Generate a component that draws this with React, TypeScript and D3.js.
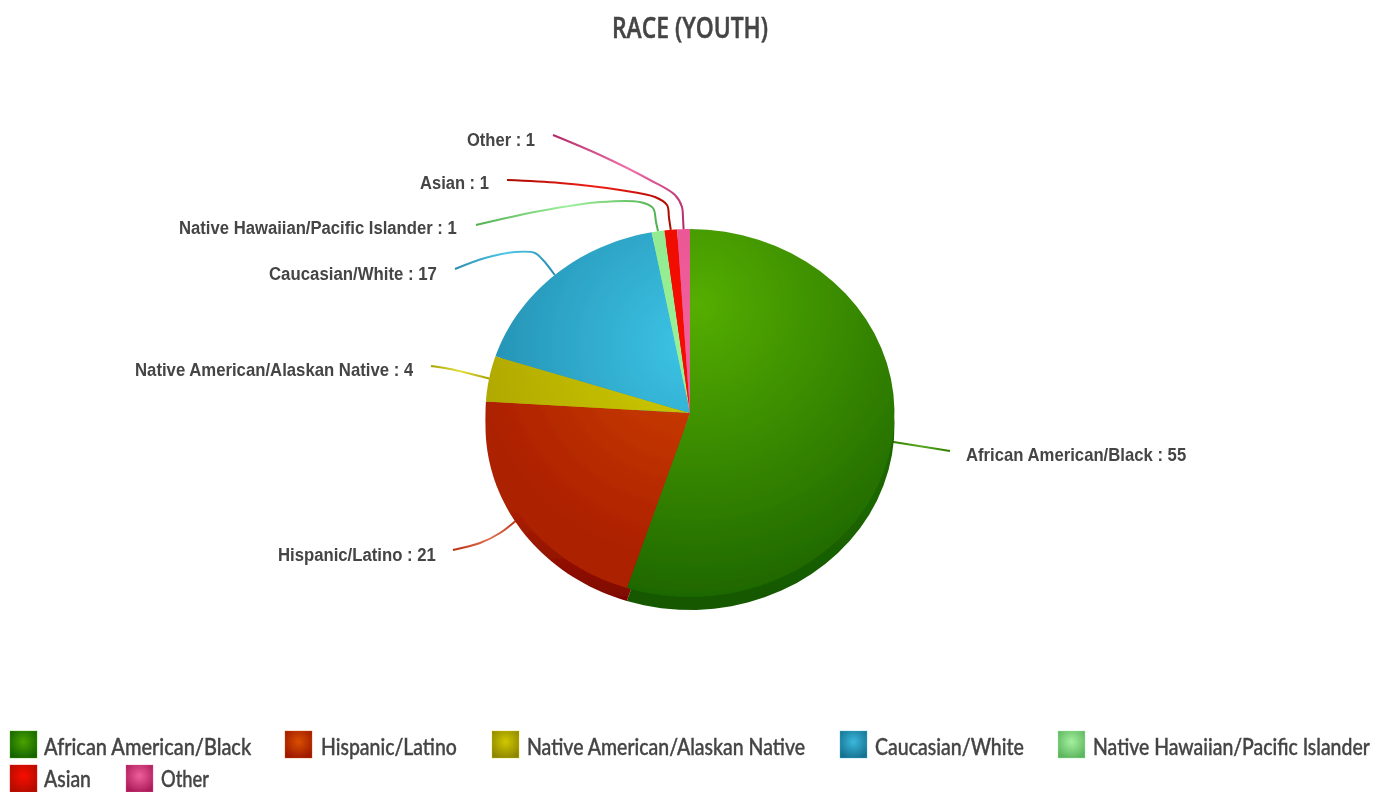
import React from "react";
import * as d3 from "d3";

const categories = ["African American/Black", "Hispanic/Latino", "Native American/Alaskan Native", "Caucasian/White", "Native Hawaiian/Pacific Islander", "Asian", "Other"];
const seriesValues = [55, 21, 4, 17, 1, 1, 1];

const brightColors = ["#55ae00", "#d04200", "#d0cc00", "#3cc4e6", "#9af098", "#f70800", "#f0609c"];
const darkColors = ["#1d6600", "#ac2000", "#b0a800", "#2490b2", "#8ce88a", "#e80800", "#e85090"];
const sideTop = ["#1d6600", "#ac2000", "#b0a800", "#2490b2", "#8ce88a", "#e80800", "#e85090"];
const sideBottom = ["#145800", "#7e0600", "#7a7000", "#1a6a85", "#60a860", "#900400", "#a02060"];
const swatchBright = ["#4aa200", "#d94f00", "#d0c800", "#3ab8dc", "#a4f0a0", "#f81000", "#ef5f9b"];
const swatchDark = ["#136200", "#9c1800", "#8c8400", "#17708f", "#5cb45c", "#b00800", "#aa1a58"];
const lineLight = ["#58a820", "#e07050", "#e4e040", "#50c8e8", "#a0f0a0", "#f02018", "#f070a8"];
const lineDark = ["#2e7d00", "#b83010", "#a8a000", "#2a8cb0", "#50b050", "#a80800", "#b02868"];

const W = 1390, H = 792;
const cx = 690, cy = 413, rx = 204.5, ry = 184, depth = 13;

const labelLayout = [
  { x: 966, y: 461, end: false, w: 221 },
  { x: 436, y: 561, end: true, w: 158 },
  { x: 414, y: 376, end: true, w: 279 },
  { x: 437, y: 280, end: true, w: 168 },
  { x: 457, y: 234, end: true, w: 278 },
  { x: 489, y: 189, end: true, w: 69 },
  { x: 535, y: 146, end: true, w: 68 },
];
const linePaths: [number, number][][] = [
  [[950, 451], [925, 447]],
  [[453, 550], [480, 543], [500, 533]],
  [[431, 366], [450, 369]],
  [[455, 269], [485, 258], [515, 252], [535, 253], [543, 260]],
  [[476, 225], [540, 211], [600, 202], [640, 202], [653, 208], [656, 222]],
  [[507, 180], [560, 183], [620, 190], [655, 197], [667, 205], [669, 218]],
  [[553, 135], [600, 155], [650, 180], [675, 195], [682, 207], [683, 218]],
];
const legendRows = [
  [{ i: 0, x: 10, tx: 44, w: 208 }, { i: 1, x: 285, tx: 321, w: 136 }, { i: 2, x: 492, tx: 527, w: 279 }, { i: 3, x: 840, tx: 875, w: 149 }, { i: 4, x: 1058, tx: 1093, w: 277 }],
  [{ i: 5, x: 10, tx: 44, w: 47 }, { i: 6, x: 126, tx: 161, w: 48 }],
];
const legendY = [731, 765];
const legendBase = [755, 787];

const ctx = document.createElement("canvas").getContext("2d")!;
function Fit({ x, y, w, end, family, weight, size, fill, bold, children }: any) {
  ctx.font = `${weight} ${size}px ${family}`;
  const m = ctx.measureText(children).width;
  const left = end ? x - w : x;
  return (
    <text transform={`translate(${left},${y}) scale(${w / m},1)`} fontFamily={family} fontWeight={weight} fontSize={size} fill={fill}
      stroke={bold ? fill : "none"} strokeWidth={bold || 0}>
      {children}
    </text>
  );
}

export default function App() {
  const pie = d3.pie<number>().sort(null).value((d) => d);
  const arcs = pie(seriesValues);
  const rim = (a: number) => [cx + rx * Math.sin(a), cy - ry * Math.cos(a)] as [number, number];
  const midRim = (i: number) => rim((arcs[i].startAngle + arcs[i].endAngle) / 2);
  const curve = d3.line().curve(d3.curveCatmullRom.alpha(0.5));
  const connector = (i: number) => curve([...linePaths[i], midRim(i)]) || "";
  const sector = (i: number, dy: number) => {
    const a = arcs[i];
    const pts = d3.range(0, 41).map((k) => {
      const p = rim(a.startAngle + (a.endAngle - a.startAngle) * k / 40);
      return [p[0], p[1] + dy] as [number, number];
    });
    return d3.line()([[cx, cy + dy], ...pts]) + "Z";
  };

  return (
    <svg width={W} height={H} style={{ position: "absolute", left: 0, top: 0, display: "block", background: "#fff" }}>
      <defs>
        <filter id="soft" x="-5%" y="-5%" width="110%" height="110%"><feGaussianBlur stdDeviation="0.5" /></filter>
        {categories.map((_, i) => (
          <radialGradient key={i} id={`g${i}`} gradientUnits="userSpaceOnUse" cx={i === 0 ? 696 : 690} cy={i === 0 ? 305 : 345} r={i === 0 ? 300 : 215}>
            <stop offset="0" stopColor={brightColors[i]} />
            <stop offset="1" stopColor={darkColors[i]} />
          </radialGradient>
        ))}
        {categories.map((_, i) => (
          <linearGradient key={i} id={`d${i}`} gradientUnits="userSpaceOnUse" x1={0} y1={510} x2={0} y2={598}>
            <stop offset="0" stopColor={sideTop[i]} />
            <stop offset="1" stopColor={sideBottom[i]} />
          </linearGradient>
        ))}
        {categories.map((_, i) => (
          <radialGradient key={i} id={`s${i}`} cx="0.5" cy="0.4" r="0.65">
            <stop offset="0" stopColor={swatchBright[i]} />
            <stop offset="1" stopColor={swatchDark[i]} />
          </radialGradient>
        ))}
        {categories.map((_, i) => {
          const [x2, y2] = midRim(i);
          return (
            <linearGradient key={i} id={`l${i}`} gradientUnits="userSpaceOnUse" x1={linePaths[i][0][0]} y1={linePaths[i][0][1]} x2={x2} y2={y2 + 0.01}>
              <stop offset="0" stopColor={lineDark[i]} />
              <stop offset="0.5" stopColor={lineLight[i]} />
              <stop offset="1" stopColor={lineDark[i]} />
            </linearGradient>
          );
        })}
      </defs>
      <g filter="url(#soft)">
        <Fit x={612} y={38} w={156} family="'Open Sans', sans-serif" weight={600} size={29} fill="#444" bold={0.5}>RACE (YOUTH)</Fit>

        {categories.map((_, i) => (
          <path key={i} d={connector(i)} fill="none" stroke={`url(#l${i})`} strokeWidth={2} />
        ))}

        {arcs.map((_, i) => <path key={i} d={sector(i, depth)} fill={`url(#d${i})`} />)}
        {arcs.map((_, i) => <path key={i} d={sector(i, 0)} fill={`url(#g${i})`} />)}

        {categories.map((c, i) => (
          <Fit key={i} x={labelLayout[i].x} y={labelLayout[i].y} w={labelLayout[i].w} end={labelLayout[i].end}
            family="'Liberation Sans', Arial, sans-serif" weight="bold" size={19} fill="#444">
            {`${c} : ${seriesValues[i]}`}
          </Fit>
        ))}

        {legendRows.map((row, r) => row.map((e) => (
          <g key={e.i}>
            <rect x={e.x} y={legendY[r]} width={27} height={27} fill={`url(#s${e.i})`} stroke={swatchBright[e.i]} strokeOpacity={0.35} strokeWidth={1} />
            <Fit x={e.tx} y={legendBase[r]} w={e.w} family="Lato, sans-serif" weight={500} size={23} fill="#444" bold={0.4}>{categories[e.i]}</Fit>
          </g>
        )))}
      </g>
    </svg>
  );
}
